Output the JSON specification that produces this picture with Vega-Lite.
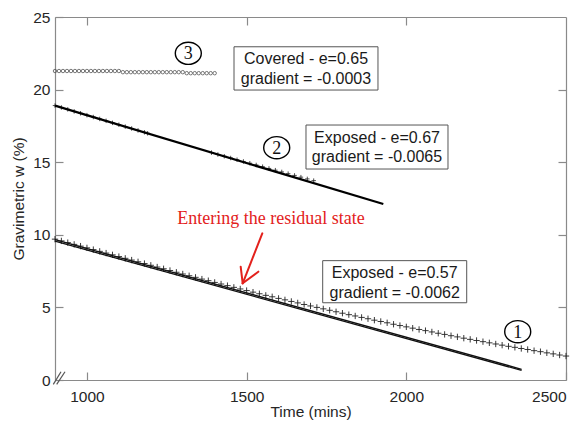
{
  "$schema": "https://vega.github.io/schema/vega-lite/v6.json",
  "width": 511,
  "height": 363,
  "autosize": "none",
  "padding": {"left": 55, "top": 17, "right": 18, "bottom": 41},
  "background": "white",
  "view": {"stroke": null},
  "config": {
    "font": "Liberation Sans",
    "axis": {
      "domainColor": "#8a8a8a",
      "tickColor": "#8a8a8a",
      "labelColor": "#262626",
      "titleColor": "#262626",
      "labelFont": "Liberation Sans",
      "titleFont": "Liberation Sans",
      "labelFontSize": 15.5,
      "titleFontSize": 15.5,
      "titleFontWeight": "normal",
      "grid": false,
      "tickSize": -8,
      "domainWidth": 1.2,
      "tickWidth": 1.2
    }
  },
  "datasets": {
    "s1": [
      {"t":900,"w":9.70},{"t":920,"w":9.58},{"t":940,"w":9.46},{"t":960,"w":9.34},{"t":980,"w":9.22},
      {"t":1000,"w":9.10},{"t":1020,"w":8.98},{"t":1040,"w":8.86},{"t":1060,"w":8.74},{"t":1080,"w":8.62},
      {"t":1100,"w":8.50},{"t":1120,"w":8.38},{"t":1140,"w":8.26},{"t":1160,"w":8.14},{"t":1180,"w":8.02},
      {"t":1200,"w":7.90},{"t":1220,"w":7.78},{"t":1240,"w":7.66},{"t":1260,"w":7.54},{"t":1280,"w":7.42},
      {"t":1300,"w":7.30},{"t":1320,"w":7.18},{"t":1340,"w":7.07},{"t":1360,"w":6.95},{"t":1380,"w":6.84},
      {"t":1400,"w":6.72},{"t":1420,"w":6.61},{"t":1440,"w":6.50},{"t":1460,"w":6.38},{"t":1480,"w":6.27},
      {"t":1500,"w":6.16},{"t":1520,"w":6.05},{"t":1540,"w":5.94},{"t":1560,"w":5.83},{"t":1580,"w":5.73},
      {"t":1600,"w":5.62},{"t":1620,"w":5.52},{"t":1640,"w":5.41},{"t":1660,"w":5.31},{"t":1680,"w":5.20},
      {"t":1700,"w":5.10},{"t":1720,"w":5.00},{"t":1740,"w":4.90},{"t":1760,"w":4.80},{"t":1780,"w":4.70},
      {"t":1800,"w":4.60},{"t":1820,"w":4.50},{"t":1840,"w":4.41},{"t":1860,"w":4.31},{"t":1880,"w":4.22},
      {"t":1900,"w":4.12},{"t":1920,"w":4.03},{"t":1940,"w":3.94},{"t":1960,"w":3.84},{"t":1980,"w":3.75},
      {"t":2000,"w":3.66},{"t":2020,"w":3.57},{"t":2040,"w":3.48},{"t":2060,"w":3.40},{"t":2080,"w":3.31},
      {"t":2100,"w":3.22},{"t":2120,"w":3.14},{"t":2140,"w":3.05},{"t":2160,"w":2.97},{"t":2180,"w":2.88},
      {"t":2200,"w":2.80},{"t":2220,"w":2.72},{"t":2240,"w":2.64},{"t":2260,"w":2.56},{"t":2280,"w":2.48},
      {"t":2300,"w":2.40},{"t":2320,"w":2.32},{"t":2340,"w":2.25},{"t":2360,"w":2.17},{"t":2380,"w":2.10},
      {"t":2400,"w":2.02},{"t":2420,"w":1.95},{"t":2440,"w":1.87},{"t":2460,"w":1.80},{"t":2480,"w":1.72},
      {"t":2500,"w":1.65}
    ],
    "s2": [
      {"t":900,"w":18.90},{"t":920,"w":18.77},{"t":940,"w":18.64},{"t":960,"w":18.50},{"t":980,"w":18.37},
      {"t":1000,"w":18.24},{"t":1020,"w":18.11},{"t":1040,"w":17.98},{"t":1060,"w":17.85},{"t":1080,"w":17.71},
      {"t":1100,"w":17.58},{"t":1120,"w":17.45},{"t":1140,"w":17.32},{"t":1160,"w":17.19},{"t":1180,"w":17.06},
      {"t":1190,"w":16.99},
      {"t":1390,"w":15.66},{"t":1410,"w":15.53},{"t":1430,"w":15.41},{"t":1450,"w":15.29},{"t":1470,"w":15.17},
      {"t":1490,"w":15.05},{"t":1510,"w":14.93},{"t":1530,"w":14.81},{"t":1550,"w":14.69},{"t":1570,"w":14.57},
      {"t":1590,"w":14.45},{"t":1610,"w":14.33},{"t":1630,"w":14.21},{"t":1650,"w":14.09},{"t":1670,"w":13.97},
      {"t":1690,"w":13.85},{"t":1710,"w":13.73}
    ],
    "s3": [
      {"t":900,"w":21.28},{"t":912.5,"w":21.28},{"t":925,"w":21.28},{"t":937.5,"w":21.28},{"t":950,"w":21.28},
      {"t":962.5,"w":21.28},{"t":975,"w":21.28},{"t":987.5,"w":21.28},{"t":1000,"w":21.28},{"t":1012.5,"w":21.28},
      {"t":1025,"w":21.28},{"t":1037.5,"w":21.28},{"t":1050,"w":21.28},{"t":1062.5,"w":21.28},{"t":1075,"w":21.28},
      {"t":1087.5,"w":21.28},{"t":1100,"w":21.28},
      {"t":1112.5,"w":21.20},{"t":1125,"w":21.20},{"t":1137.5,"w":21.20},{"t":1150,"w":21.20},{"t":1162.5,"w":21.20},
      {"t":1175,"w":21.20},{"t":1187.5,"w":21.20},{"t":1200,"w":21.20},{"t":1212.5,"w":21.20},{"t":1225,"w":21.20},
      {"t":1237.5,"w":21.20},{"t":1250,"w":21.20},{"t":1262.5,"w":21.20},{"t":1275,"w":21.20},{"t":1287.5,"w":21.20},
      {"t":1300,"w":21.20},
      {"t":1312.5,"w":21.13},{"t":1325,"w":21.13},{"t":1337.5,"w":21.13},{"t":1350,"w":21.13},{"t":1362.5,"w":21.13},
      {"t":1375,"w":21.13},{"t":1387.5,"w":21.13},{"t":1400,"w":21.13}
    ],
    "fit2": [{"t":900,"w":18.90},{"t":1928,"w":12.12}],
    "fit1a": [{"t":900,"w":9.66},{"t":2361,"w":0.74}],
    "fit1b": [{"t":900,"w":9.56},{"t":2361,"w":0.66}],
    "boxes": [
      {"t":1460.5,"t2":1911.3,"w":22.95,"w2":19.97},
      {"t":1685.9,"t2":2130.5,"w":17.56,"w2":14.53},
      {"t":1738.2,"t2":2189.1,"w":8.22,"w2":5.32}
    ],
    "boxtext": [
      {"t":1685.9,"w":22.11,"label":"Covered - e=0.65"},
      {"t":1685.9,"w":20.73,"label":"gradient = -0.0003"},
      {"t":1908.2,"w":16.69,"label":"Exposed - e=0.67"},
      {"t":1908.2,"w":15.38,"label":"gradient = -0.0065"},
      {"t":1963.6,"w":7.39,"label":"Exposed - e=0.57"},
      {"t":1963.6,"w":5.97,"label":"gradient = -0.0062"}
    ],
    "note": [{"t":1576.3,"w":11.09,"label":"Entering the residual state"}],
    "arrow": [
      {"t":1549.1,"w":10.10,"t2":1487.7,"w2":6.66},
      {"t":1481.4,"w":7.80,"t2":1487.7,"w2":6.66},
      {"t":1536.6,"w":7.46,"t2":1487.7,"w2":6.66}
    ],
    "nums": [
      {"t":1317.4,"w":22.50,"label":"3"},
      {"t":1594.2,"w":16.00,"label":"2"},
      {"t":2348.8,"w":3.33,"label":"1"}
    ],
    "breaks": [
      {"t":894.7,"w":-0.30,"t2":918.8,"w2":0.57},
      {"t":905.3,"w":-0.30,"t2":931.3,"w2":0.57}
    ]
  },
  "layer": [
    {
      "data": {"name": "s1"},
      "mark": {"type": "point", "shape": "M-1,0H1M0,-1V1", "filled": false, "stroke": "#222222", "strokeWidth": 0.9, "size": 40, "opacity": 1},
      "encoding": {
        "x": {"field": "t", "type": "quantitative", "scale": {"domain": [900, 2500], "nice": false, "zero": false},
              "axis": {"orient": "bottom", "values": [1000, 1500, 2000, 2500], "format": "d", "title": "Time (mins)", "labelPadding": 17, "titlePadding": 0}},
        "y": {"field": "w", "type": "quantitative", "scale": {"domain": [0, 25], "nice": false, "zero": false},
              "axis": {"orient": "left", "values": [0, 5, 10, 15, 20, 25], "title": "Gravimetric w (%)", "labelPadding": 13, "titlePadding": 6}}
      }
    },
    {
      "data": {"name": "s3"},
      "mark": {"type": "point", "shape": "circle", "filled": false, "stroke": "#555555", "strokeWidth": 0.8, "size": 12, "opacity": 1},
      "encoding": {
        "x": {"field": "t", "type": "quantitative", "scale": {"domain": [900, 2500], "nice": false, "zero": false},
              "axis": {"orient": "top", "values": [1000, 1500, 2000], "labels": false, "title": null}},
        "y": {"field": "w", "type": "quantitative", "scale": {"domain": [0, 25], "nice": false, "zero": false},
              "axis": {"orient": "right", "values": [5, 10, 15, 20], "labels": false, "title": null}}
      }
    },
    {
      "data": {"name": "s2"},
      "mark": {"type": "point", "shape": "M-1,0H1M0,-1V1", "filled": false, "stroke": "#222222", "strokeWidth": 0.8, "size": 20, "opacity": 1},
      "encoding": {
        "x": {"field": "t", "type": "quantitative", "axis": null},
        "y": {"field": "w", "type": "quantitative", "axis": null}
      }
    },
    {
      "data": {"name": "fit2"},
      "mark": {"type": "line", "color": "black", "strokeWidth": 2.2},
      "encoding": {
        "x": {"field": "t", "type": "quantitative", "axis": null},
        "y": {"field": "w", "type": "quantitative", "axis": null}
      }
    },
    {
      "data": {"name": "fit1a"},
      "mark": {"type": "line", "color": "#111111", "strokeWidth": 1.3},
      "encoding": {
        "x": {"field": "t", "type": "quantitative", "axis": null},
        "y": {"field": "w", "type": "quantitative", "axis": null}
      }
    },
    {
      "data": {"name": "fit1b"},
      "mark": {"type": "line", "color": "#111111", "strokeWidth": 1.3},
      "encoding": {
        "x": {"field": "t", "type": "quantitative", "axis": null},
        "y": {"field": "w", "type": "quantitative", "axis": null}
      }
    },
    {
      "data": {"name": "boxes"},
      "mark": {"type": "rect", "fill": "white", "stroke": "#555555", "strokeWidth": 1},
      "encoding": {
        "x": {"field": "t", "type": "quantitative", "axis": null},
        "x2": {"field": "t2"},
        "y": {"field": "w", "type": "quantitative", "axis": null},
        "y2": {"field": "w2"}
      }
    },
    {
      "data": {"name": "boxtext"},
      "mark": {"type": "text", "font": "Liberation Sans", "fontSize": 16, "color": "#1a1a1a", "align": "center", "baseline": "middle"},
      "encoding": {
        "x": {"field": "t", "type": "quantitative", "axis": null},
        "y": {"field": "w", "type": "quantitative", "axis": null},
        "text": {"field": "label"}
      }
    },
    {
      "data": {"name": "note"},
      "mark": {"type": "text", "font": "Liberation Serif", "fontSize": 18, "color": "#e3211c", "align": "center", "baseline": "middle"},
      "encoding": {
        "x": {"field": "t", "type": "quantitative", "axis": null},
        "y": {"field": "w", "type": "quantitative", "axis": null},
        "text": {"field": "label"}
      }
    },
    {
      "data": {"name": "arrow"},
      "mark": {"type": "rule", "color": "#e3211c", "strokeWidth": 2, "strokeCap": "round"},
      "encoding": {
        "x": {"field": "t", "type": "quantitative", "axis": null},
        "y": {"field": "w", "type": "quantitative", "axis": null},
        "x2": {"field": "t2"},
        "y2": {"field": "w2"}
      }
    },
    {
      "data": {"name": "nums"},
      "mark": {"type": "point", "shape": "M-1,0A1,0.85,0,1,1,1,0A1,0.85,0,1,1,-1,0Z", "filled": false, "stroke": "black", "strokeWidth": 1.4, "size": 676, "opacity": 1},
      "encoding": {
        "x": {"field": "t", "type": "quantitative", "axis": null},
        "y": {"field": "w", "type": "quantitative", "axis": null}
      }
    },
    {
      "data": {"name": "nums"},
      "mark": {"type": "text", "font": "Liberation Serif", "fontSize": 18, "color": "#111111", "align": "center", "baseline": "middle", "dy": 1},
      "encoding": {
        "x": {"field": "t", "type": "quantitative", "axis": null},
        "y": {"field": "w", "type": "quantitative", "axis": null},
        "text": {"field": "label"}
      }
    },
    {
      "data": {"name": "breaks"},
      "mark": {"type": "rule", "color": "#555555", "strokeWidth": 1.2},
      "encoding": {
        "x": {"field": "t", "type": "quantitative", "axis": null},
        "y": {"field": "w", "type": "quantitative", "axis": null},
        "x2": {"field": "t2"},
        "y2": {"field": "w2"}
      }
    }
  ]
}
